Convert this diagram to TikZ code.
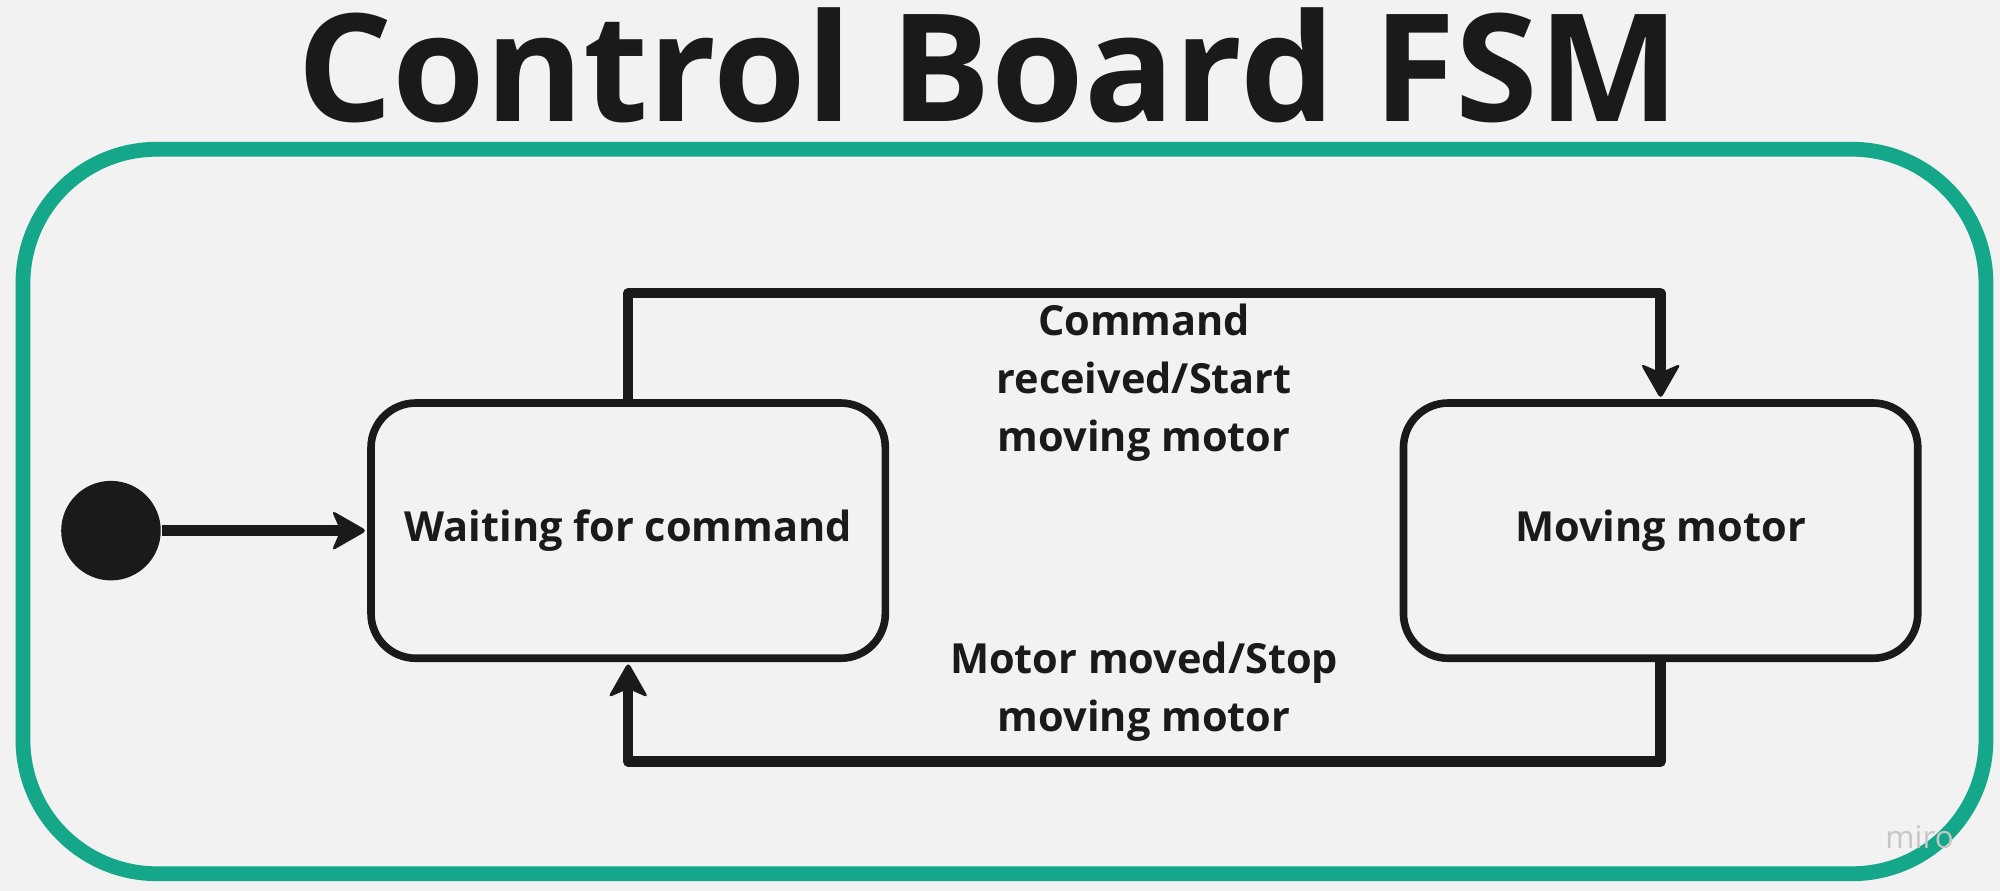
\documentclass[tikz,border=0pt]{standalone}
\usepackage{fontspec}
\setmainfont{Open Sans}
\usetikzlibrary{positioning}
\definecolor{miroteal}{RGB}{20,167,137}
\definecolor{bggray}{RGB}{242,242,242}
\definecolor{inkblack}{RGB}{26,26,26}
\begin{document}
\begin{tikzpicture}[x=0.01cm, y=-0.01cm, font=\bfseries\fontsize{9.25}{13}\selectfont, text=inkblack]

\tikzstyle{state}=[draw=inkblack, line width=1.7pt, rounded corners=0.35cm, minimum width=4.03cm, minimum height=2cm, align=center]
\tikzstyle{trans}=[draw=inkblack, line width=2.3pt, line join=round, shorten >=0.19cm]
\tikzstyle{tip}=[fill=inkblack, rounded corners=1pt]
\tikzstyle{guard}=[align=center]
%\tikzstyle{start}=[circle, draw=inkblack]

\useasboundingbox (0,0) rectangle (1568,698.5);
\fill[bggray] (0,0) rectangle (1568,698.5);
\draw[miroteal, line width=3.3pt, rounded corners=1.05cm] (18,117) rectangle (1557,685);

\node[anchor=base, font=\bfseries\fontsize{33.4}{40}\selectfont] (title) at (775,95) {Control Board FSM};

\node[circle, fill=inkblack, minimum size=0.78cm, inner sep=0pt] (init) at (87,416) {};
\node[state] (wait) at (492.5,416) {Waiting for command};
\node[state, right=4cm of wait] (move) {Moving motor};

\node[guard] (cmd) at (897,300) {Command\\received/Start\\moving motor};
\node[guard] (done) at (897,542.5) {Motor moved/Stop\\moving motor};

\draw[trans] (init) -- (wait);
\draw[trans] (wait.north) -- ++(0,-83) -| (move.north);
\draw[trans] (move.south) -- ++(0,78) -| (wait.south);

% arrow heads
\fill[tip, shift={(wait.west)}] (0,0) -- (-28,-16) -- (-21,0) -- (-28,16) -- cycle;
\fill[tip, shift={(move.north)}, rotate=-90] (0,0) -- (-28,-16) -- (-21,0) -- (-28,16) -- cycle;
\fill[tip, shift={(wait.south)}, rotate=90] (0,0) -- (-28,-16) -- (-21,0) -- (-28,16) -- cycle;

\node[text=black!22, font=\fontsize{7}{8}\selectfont] (miro) at (1505,656) {miro};
\end{tikzpicture}
\end{document}
